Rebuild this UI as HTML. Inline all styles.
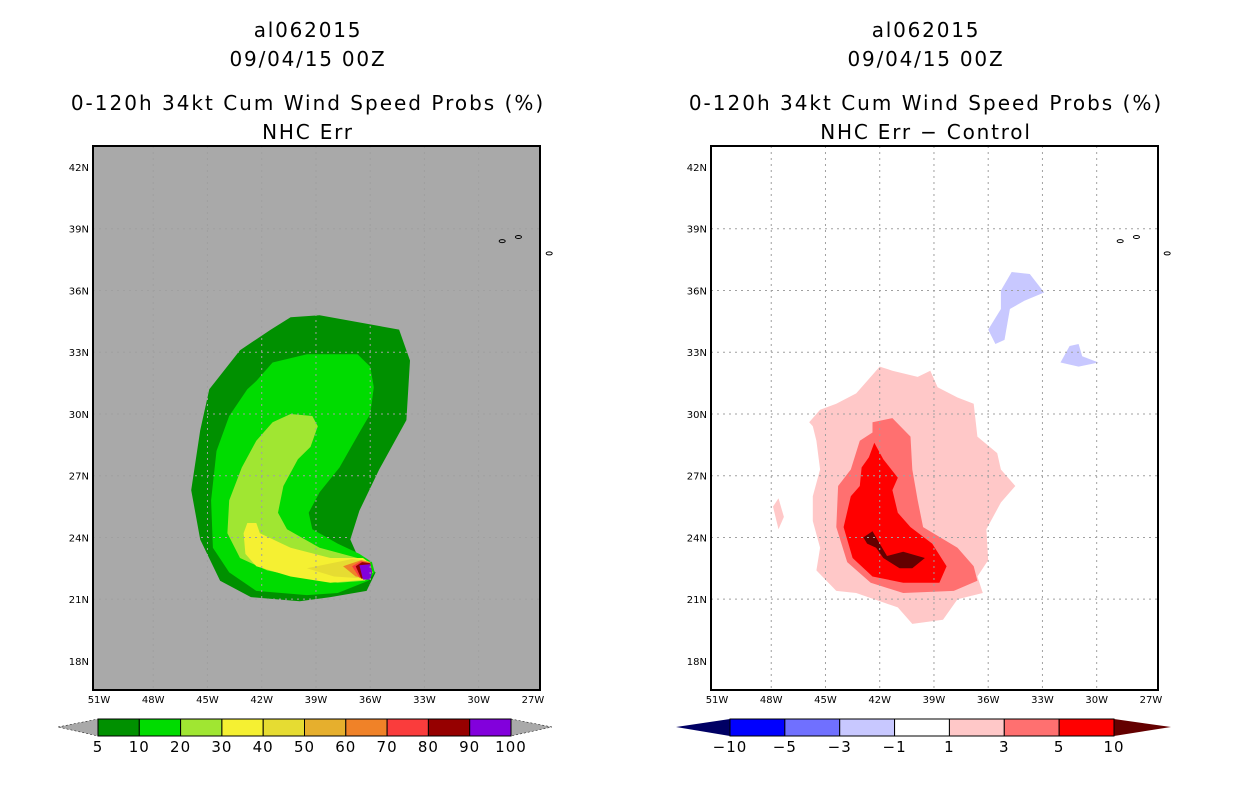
<!DOCTYPE html>
<html><head><meta charset="utf-8">
<style>
body{margin:0;background:#fff;width:1236px;height:800px;overflow:hidden;font-family:"DejaVu Sans","Liberation Sans",sans-serif}
svg text{font-family:"DejaVu Sans","Liberation Sans",sans-serif}
</style></head>
<body>
<svg id="c" width="1236" height="800" xmlns="http://www.w3.org/2000/svg"></svg>
<script>
// ---- data ----
const lonTicks=[51,48,45,42,39,36,33,30,27];
const latTicks=[42,39,36,33,30,27,24,21,18];
const leftLevels=["5","10","20","30","40","50","60","70","80","90","100"];
const leftColors=["#009000","#00dc00","#a0e632","#f5f032","#e6dc32","#e6af2d","#f08228","#fa3c3c","#960000","#8200dc"];
const rightLevels=["-10","-5","-3","-1","1","3","5","10"];
const rightColors=["#0000ff","#7070ff","#c8c8ff","#ffffff","#ffc8c8","#ff7070","#ff0000"];
const p5=[[40.4,34.7],[38.8,34.8],[34.4,34.1],[33.8,32.6],[34.0,29.7],[35.5,27.3],[36.6,25.3],[37.1,23.9],[36.6,22.9],[35.7,22.3],[36.2,21.4],[38.2,21.1],[39.9,20.9],[42.6,21.1],[44.3,21.9],[45.4,23.9],[45.9,26.3],[45.4,29.2],[44.9,31.2],[43.2,33.1],[41.5,34.1]];
const p10=[[42.3,31.6],[41.4,32.5],[39.5,32.9],[36.7,32.9],[36.0,32.3],[35.8,31.3],[36.0,30.0],[36.6,29.1],[37.7,27.4],[38.8,26.2],[39.4,25.2],[39.2,24.4],[37.8,23.7],[36.6,23.2],[35.9,22.8],[35.75,22.3],[36.1,21.9],[37.8,21.3],[39.5,21.2],[42.3,21.4],[43.8,22.3],[44.7,23.5],[44.8,25.8],[44.5,28.2],[43.8,29.9],[42.8,31.2]];
const p20=[[40.4,30.0],[39.2,29.9],[38.9,29.4],[39.3,28.4],[40.0,27.8],[40.8,26.5],[41.1,25.2],[40.6,24.4],[38.8,23.5],[36.7,23.0],[36.2,22.8],[35.85,22.3],[36.3,21.9],[37.8,21.8],[39.5,22.0],[41.7,22.4],[43.2,23.0],[43.9,24.2],[43.8,25.8],[43.1,27.4],[42.3,28.7],[41.4,29.6]];
const p30=[[42.8,24.7],[42.3,24.7],[42.1,24.2],[40.4,23.5],[38.2,23.0],[36.4,23.0],[36.0,22.75],[35.9,22.3],[36.2,21.95],[38.2,21.8],[40.4,22.1],[42.3,22.6],[42.9,23.2],[43.0,24.2]];
const p40=[[39.5,22.5],[37.0,22.95],[36.1,22.85],[35.9,22.3],[36.2,22.0],[38.0,22.1]];
const p60=[[37.5,22.6],[36.5,22.9],[36.0,22.8],[35.9,22.3],[36.1,22.0],[36.8,22.1]];
const p70=[[37.0,22.6],[36.5,22.85],[36.0,22.75],[35.9,22.3],[36.05,22.0],[36.6,22.05]];
const p80=[[36.8,22.6],[36.45,22.8],[36.0,22.75],[35.9,22.3],[36.0,22.0],[36.5,22.0]];
const p90=[[36.6,22.65],[36.0,22.7],[35.9,22.3],[36.0,21.95],[36.4,21.95]];
const r1=[[44.4,30.5],[43.3,31.0],[42.5,31.8],[42.0,32.3],[41.3,32.1],[39.9,31.8],[39.2,32.1],[38.8,31.3],[37.7,30.8],[36.8,30.5],[36.6,28.9],[35.5,28.1],[35.3,27.3],[34.5,26.5],[35.3,25.7],[36.1,24.4],[36.0,22.9],[36.6,22.1],[36.3,21.3],[37.7,21.0],[38.5,20.0],[40.2,19.8],[41.0,20.6],[43.3,21.3],[44.4,21.4],[45.5,22.4],[45.3,23.5],[45.7,24.8],[45.7,26.0],[45.3,27.3],[45.5,28.7],[45.7,29.4],[45.9,29.6],[45.3,30.2]];
const r1b=[[47.9,25.5],[47.6,25.9],[47.3,25.0],[47.6,24.4]];
const r3=[[42.4,29.6],[41.3,29.8],[40.3,28.9],[40.2,27.3],[39.9,25.8],[39.6,24.5],[37.7,23.5],[36.8,22.6],[36.6,21.9],[37.9,21.4],[40.7,21.3],[42.5,21.8],[43.8,22.8],[44.4,24.5],[44.3,26.5],[43.6,27.3],[43.1,28.7],[42.4,29.1]];
const r5=[[42.3,28.6],[41.8,27.8],[41.0,26.9],[41.3,26.3],[41.0,25.2],[40.3,24.5],[39.1,23.7],[38.3,22.6],[38.7,21.8],[40.7,21.8],[42.4,22.1],[43.5,23.0],[44.0,24.5],[43.6,26.0],[43.1,26.5],[43.0,27.4],[42.6,27.9]];
const r10=[[42.9,24.0],[42.4,24.3],[42.0,23.7],[41.6,23.1],[40.7,23.3],[39.5,23.0],[40.2,22.5],[40.9,22.5],[41.8,23.0],[42.2,23.5],[42.7,23.7]];
const b1=[[35.3,36.0],[34.7,36.9],[33.7,36.8],[32.9,35.9],[34.0,35.5],[34.8,35.1],[35.1,33.6],[35.6,33.4],[36.0,34.1],[35.3,35.1]];
const b2=[[32.0,32.5],[31.5,33.3],[31.0,33.4],[30.8,32.8],[29.9,32.5],[31.0,32.3]];
const islands=[[28.7,38.4],[27.8,38.6],[26.1,37.8]];

// ---- rendering ----
const NS="http://www.w3.org/2000/svg";
const svg=document.getElementById('c');
function mk(tag,attrs,parent){const e=document.createElementNS(NS,tag);for(const k in attrs)e.setAttribute(k,attrs[k]);(parent||svg).appendChild(e);return e;}
function txt(x,y,s,size,anchor,parent){const t=mk('text',{x:x,y:y,'font-size':size,'text-anchor':anchor||'middle',fill:'#000'},parent);t.textContent=s;return t;}
const X0=[99,717];
function xs(p,lon){return X0[p]+(51-lon)*18.08;}
function ys(lat){return 167+(42-lat)*20.58;}
function poly(p,arr,fill,parent,name){const pts=arr.map(d=>xs(p,d[0]).toFixed(1)+','+ys(d[1]).toFixed(1)).join(' ');const e=mk('polygon',{points:pts,fill:fill},parent);

return e;}

function panel(p,bg,subtitle){
  const bx=[93,711][p], cx=bx+215;
  const g=mk('g',{});
  
  
  [["al062015",37,1.8],["09/04/15 00Z",66,1.8],["0-120h 34kt Cum Wind Speed Probs (%)",110,2],[subtitle,139,1.8]].forEach((d,i)=>{const t=txt(cx,d[1],d[0],20,'middle',g);t.setAttribute('letter-spacing',d[2]);
    
    });
  const r=mk('rect',{x:bx,y:146,width:447,height:544,fill:bg},g);
  
  
  return {g:g,bx:bx};
}
function grid(p,g,bx){
  lonTicks.forEach(l=>{const x=xs(p,l);
    if(l<51&&l>27){const e=mk('line',{x1:x,x2:x,y1:146,y2:690,stroke:'#a0a0a0','stroke-dasharray':'2,4','stroke-width':1},g);
    
    }
    const t=txt(x,703,l+'W',10,'middle',g);
    
    });
  latTicks.forEach(l=>{const y=ys(l);
    if(l<42&&l>18){const e=mk('line',{x1:bx,x2:bx+447,y1:y,y2:y,stroke:'#a0a0a0','stroke-dasharray':'2,4','stroke-width':1},g);
    
    }
    const t=txt(bx-4,y+4,l+'N',10,'end',g);
    
    });
  islands.forEach(d=>{const e=mk('ellipse',{cx:xs(p,d[0]),cy:ys(d[1]),rx:3,ry:1.5,fill:'none',stroke:'#000','stroke-width':1},g);
    
    });
  const f=mk('rect',{x:bx,y:146,width:447,height:544,fill:'none',stroke:'#000','stroke-width':2},g);
  
  
}
function colorbar(g,x0,x1,tl,tr,colors,labels,lcol,rcol,name){
  const n=colors.length,w=(x1-x0)/n;
  const cb=mk('g',{},g);
  
  
  mk('polygon',{points:`${tl},727 ${x0},719 ${x0},736`,fill:lcol,stroke:'#000','stroke-width':0.5,'stroke-dasharray':'2,2'},cb);
  mk('polygon',{points:`${tr},727 ${x1},719 ${x1},736`,fill:rcol,stroke:'#000','stroke-width':0.5,'stroke-dasharray':'2,2'},cb);
  colors.forEach((c,i)=>{const e=mk('rect',{x:x0+i*w,y:719,width:w,height:17,fill:c,stroke:'#000','stroke-width':1},cb);
    
    });
  labels.forEach((s,i)=>{const xx=labels.length==n+1?x0+i*w:x0+(i+0.5)*w;
    const t=txt(xx,752,s.replace('-','\u2212'),15,'middle',cb);
    t.setAttribute('letter-spacing','1');
    
    });
}

// left
const L=panel(0,'#a9a9a9','NHC Err');
[[p5,0],[p10,1],[p20,2],[p30,3],[p40,4],[p60,6],[p70,7],[p80,8],[p90,9]].forEach(d=>poly(0,d[0],leftColors[d[1]],L.g,'contour-'+leftLevels[d[1]]+'pct'));
grid(0,L.g,L.bx);
colorbar(L.g,98,511,58,552,leftColors,leftLevels,'#a9a9a9','#a9a9a9','left-colorbar');

// right
const R=panel(1,'#ffffff','NHC Err \u2212 Control');
[[r1,4],[r1b,4],[r3,5],[r5,6]].forEach(d=>poly(1,d[0],rightColors[d[1]],R.g,'diff-contour'));
poly(1,r10,'#640000',R.g,'diff-contour-gt10');
poly(1,b1,rightColors[2],R.g,'diff-contour-negative');
poly(1,b2,rightColors[2],R.g,'diff-contour-negative');
grid(1,R.g,R.bx);
(function(){
  const x0=730,x1=1114,n=rightColors.length,w=(x1-x0)/n;
  const cb=mk('g',{},R.g);
  
  
  mk('polygon',{points:`676,727 ${x0},719 ${x0},736`,fill:'#000064'},cb);
  mk('polygon',{points:`1171,727 ${x1},719 ${x1},736`,fill:'#640000'},cb);
  rightColors.forEach((c,i)=>{const e=mk('rect',{x:x0+i*w,y:719,width:w,height:17,fill:c,stroke:'#000','stroke-width':1},cb);
    
    });
  rightLevels.forEach((s,i)=>{const t=txt(x0+i*w,752,s.replace('-','\u2212'),15,'middle',cb);
    t.setAttribute('letter-spacing','1');
    
    });
})();
</script>
</body></html>
